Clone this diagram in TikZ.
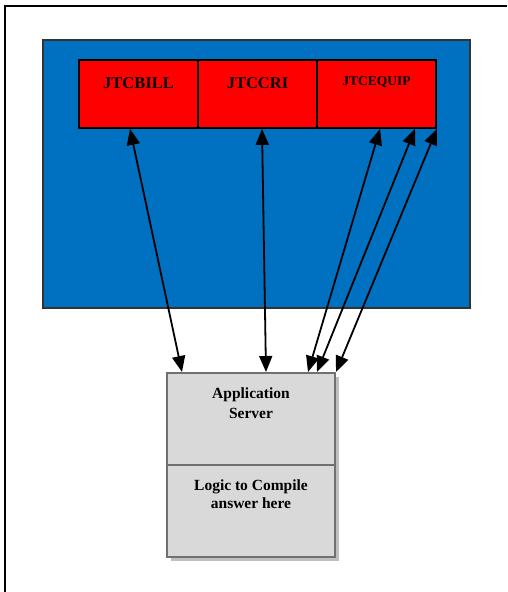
\documentclass[tikz,border=0pt]{standalone}
\usepackage{fontspec}
\setmainfont{Liberation Serif}
\usepackage{xcolor}
\usetikzlibrary{arrows.meta,positioning,shadows}

\definecolor{dbblue}{HTML}{0070C0}
\definecolor{srvgray}{HTML}{D9D9D9}
\definecolor{srvline}{HTML}{707070}

\begin{document}
\begin{tikzpicture}[x=1pt,y=-1pt,
  tbl/.style={draw=black,line width=1.8pt,fill=red,minimum width=119pt,minimum height=68pt,inner sep=0pt},
  srv/.style={draw=srvline,line width=2pt,fill=srvgray,minimum width=168pt,minimum height=92pt,inner sep=0pt,
    drop shadow={shadow xshift=4pt,shadow yshift=-4pt,fill=black!25,opacity=1}},
  link/.style={{Triangle[length=16pt,width=13pt]}-{Triangle[length=16pt,width=13pt]},line width=1.8pt}]
\useasboundingbox (0,0) rectangle (507,592);
% frame of the slide
\draw[line width=2pt] (5,592) -- (5,6) -- (507,6);
% database area
\node[draw=black!80,line width=1.2pt,fill=dbblue,minimum width=427pt,minimum height=268pt] (db) at (256.5,174) {};
\node[tbl,label={[anchor=north,yshift=-15pt,font=\bfseries\fontsize{16.5}{18}\selectfont]north:JTCBILL}] (bill) at (138.5,94) {};
\node[tbl,label={[anchor=north,yshift=-15pt,font=\bfseries\fontsize{16.5}{18}\selectfont]north:JTCCRI}] (cri) at (257.5,94) {};
\node[tbl,label={[anchor=north,yshift=-14pt,font=\bfseries\fontsize{13.5}{15}\selectfont]north:JTCEQUIP}] (equip) at (376.5,94) {};
% server
\node[srv,label={[anchor=north,yshift=-12.5pt,align=center,font=\bfseries\fontsize{15.5}{19.5}\selectfont]north:Application\\Server}] (app) at (251,419) {};
\node[srv,label={[anchor=north,yshift=-12.5pt,align=center,font=\bfseries\fontsize{15.5}{18}\selectfont]north:Logic to Compile\\answer here}] (logic) at (251,511) {};
% links
\draw[link] ([xshift=-8.5pt]bill.south) -- ([xshift=16pt]app.north west);
\draw[link] ([xshift=4.5pt]cri.south) -- ([xshift=100pt]app.north west);
\draw[link] ([xshift=3.5pt]equip.south) -- ([xshift=142pt]app.north west);
\draw[link] ([xshift=38.5pt]equip.south) -- ([xshift=151pt]app.north west);
\draw[link] (equip.south east) -- (app.north east);
\end{tikzpicture}
\end{document}
